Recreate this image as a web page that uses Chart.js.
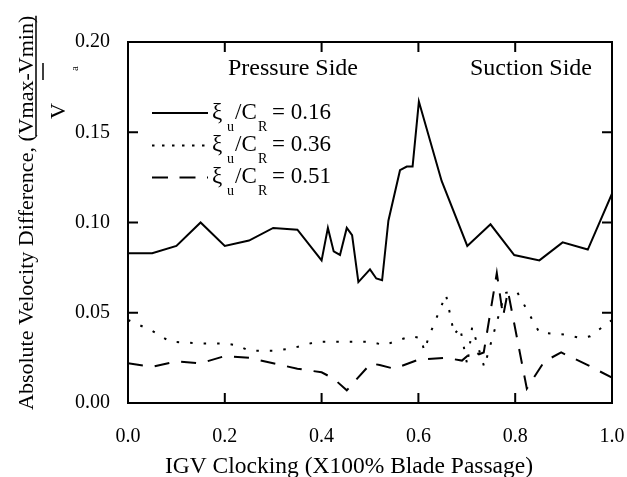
<!DOCTYPE html>
<html>
<head>
<meta charset="utf-8">
<script src="https://cdn.jsdelivr.net/npm/chart.js@4.4.1/dist/chart.umd.min.js"></script>
<style>
  html, body { margin: 0; padding: 0; background: #fff; }
  canvas { display: block; }
</style>
</head>
<body>
<canvas id="igv-chart" width="627" height="477"></canvas>
<script>
// IGV clocking position (fraction of blade passage) and velocity difference
const x016 = [0, 0.05, 0.1, 0.15, 0.2, 0.25, 0.3, 0.35, 0.4, 0.413, 0.425, 0.438, 0.452, 0.463, 0.476,
              0.5, 0.513, 0.525, 0.538, 0.562, 0.576, 0.588, 0.601, 0.648, 0.701, 0.749, 0.798, 0.85, 0.898, 0.95, 1.0];
const y016 = [0.083, 0.083, 0.087, 0.100, 0.087, 0.090, 0.097, 0.096, 0.079, 0.097, 0.084, 0.082, 0.097, 0.093, 0.067,
              0.074, 0.069, 0.068, 0.101, 0.129, 0.131, 0.131, 0.167, 0.123, 0.087, 0.099, 0.082, 0.079, 0.089, 0.085, 0.116];

const x036 = [0, 0.05, 0.087, 0.15, 0.2, 0.225, 0.25, 0.3, 0.335, 0.39, 0.45, 0.5, 0.53, 0.55, 0.585, 0.605,
              0.612, 0.622, 0.657, 0.674, 0.686, 0.701, 0.711, 0.736, 0.779, 0.803, 0.85, 0.9, 0.935, 0.955, 1.0];
const y036 = [0.046, 0.040, 0.034, 0.033, 0.033, 0.032, 0.029, 0.029, 0.030, 0.034, 0.034, 0.034, 0.032, 0.034, 0.037, 0.036,
              0.029, 0.037, 0.060, 0.038, 0.042, 0.021, 0.042, 0.020, 0.061, 0.062, 0.039, 0.038, 0.036, 0.037, 0.046];

const x051 = [0, 0.05, 0.1, 0.15, 0.2, 0.25, 0.3, 0.35, 0.4, 0.425, 0.452, 0.47, 0.502, 0.52, 0.55, 0.6, 0.657,
              0.69, 0.705, 0.715, 0.725, 0.735, 0.762, 0.775, 0.785, 0.824, 0.86, 0.895, 0.95, 1.0];
const y051 = [0.022, 0.020, 0.023, 0.022, 0.026, 0.025, 0.022, 0.019, 0.017, 0.0135, 0.007, 0.0125, 0.022, 0.021, 0.019, 0.024, 0.025,
              0.0235, 0.027, 0.029, 0.027, 0.028, 0.072, 0.048, 0.062, 0.008, 0.023, 0.028, 0.021, 0.014];

const xTickVals = [0, 0.2, 0.4, 0.6, 0.8, 1.0];
const xTickLabels = ['0.0', '0.2', '0.4', '0.6', '0.8', '1.0'];
const yTickVals = [0, 0.05, 0.1, 0.15, 0.2];
const yTickLabels = ['0.00', '0.05', '0.10', '0.15', '0.20'];

const legendValues = ['0.16', '0.36', '0.51'];

const SERIF = "'Liberation Serif', 'Times New Roman', serif";

function pts(xs, ys) {
  return xs.map((v, i) => ({ x: v, y: ys[i] }));
}

function rotText(ctx, text, bx, by, size) {
  ctx.save();
  ctx.translate(bx, by);
  ctx.rotate(-Math.PI / 2);
  ctx.font = size + 'px ' + SERIF;
  ctx.textAlign = 'left';
  ctx.textBaseline = 'alphabetic';
  ctx.fillText(text, 0, 0);
  ctx.restore();
}

const dashes = [[], [2.5, 11], [15, 12]];
const legendDashes = [[], [2.5, 7.5], [16, 11.5]];

// frame, inward ticks, legend, labels
const decor = {
  id: 'decor',
  afterDraw(chart) {
    const { ctx, chartArea: a, scales: { x, y } } = chart;
    ctx.save();
    ctx.strokeStyle = '#000';
    ctx.fillStyle = '#000';
    ctx.lineWidth = 2;
    ctx.strokeRect(a.left, a.top, a.right - a.left, a.bottom - a.top);

    ctx.beginPath();
    xTickVals.forEach(v => {
      const px = x.getPixelForValue(v);
      ctx.moveTo(px, a.bottom); ctx.lineTo(px, a.bottom - 10);
      ctx.moveTo(px, a.top); ctx.lineTo(px, a.top + 10);
    });
    yTickVals.forEach(v => {
      const py = y.getPixelForValue(v);
      ctx.moveTo(a.left, py); ctx.lineTo(a.left + 10, py);
      ctx.moveTo(a.right, py); ctx.lineTo(a.right - 10, py);
    });
    ctx.stroke();

    // side annotations
    ctx.font = '24px ' + SERIF;
    ctx.textAlign = 'left';
    ctx.textBaseline = 'alphabetic';
    ctx.fillText('Pressure Side', 228, 75);
    ctx.fillText('Suction Side', 470, 75);

    // legend
    const rows = [113, 145.5, 177.5];
    rows.forEach((ly, i) => {
      ctx.save();
      ctx.lineWidth = 2;
      ctx.setLineDash(legendDashes[i]);
      ctx.beginPath();
      ctx.moveTo(152, ly); ctx.lineTo(208, ly);
      ctx.stroke();
      ctx.restore();
      const base = ly + 5.5;
      ctx.font = '23px ' + SERIF;
      ctx.fillText('\u03BE', 212, base);
      ctx.font = '14px ' + SERIF;
      ctx.fillText('u', 227, base + 12);
      ctx.font = '23px ' + SERIF;
      ctx.fillText('/C', 235, base);
      ctx.font = '14px ' + SERIF;
      ctx.fillText('R', 258, base + 12);
      ctx.font = '23px ' + SERIF;
      ctx.fillText('= ' + legendValues[i], 272, base);
    });

    // x title
    ctx.font = '23.5px ' + SERIF;
    ctx.textAlign = 'center';
    ctx.fillText('IGV Clocking (X100% Blade Passage)', 349, 473);

    // y title with fraction
    const main = 'Absolute Velocity Difference, (';
    const num = 'Vmax-Vmin)';
    ctx.font = '22px ' + SERIF;
    const w1 = ctx.measureText(main).width;
    const w2 = ctx.measureText(num).width;
    rotText(ctx, main + num, 33, 410, 22);
    ctx.lineWidth = 1.5;
    ctx.beginPath();
    ctx.moveTo(36, 410 - w1 + 2); ctx.lineTo(36, 410 - w1 - w2);
    ctx.moveTo(43, 63); ctx.lineTo(43, 80);
    ctx.stroke();
    rotText(ctx, 'V', 65, 119, 22);
    rotText(ctx, 'a', 78, 71, 11);
    ctx.restore();
  }
};

new Chart(document.getElementById('igv-chart'), {
  type: 'line',
  data: {
    datasets: [
      { label: '\u03BEu/CR = 0.16', data: pts(x016, y016) },
      { label: '\u03BEu/CR = 0.36', data: pts(x036, y036) },
      { label: '\u03BEu/CR = 0.51', data: pts(x051, y051) }
    ].map((d, i) => Object.assign(d, {
      borderColor: '#000',
      borderWidth: 2,
      borderDash: dashes[i],
      borderCapStyle: 'butt',
      pointRadius: 0,
      fill: false,
      tension: 0
    }))
  },
  options: {
    responsive: false,
    animation: false,
    devicePixelRatio: 1,
    layout: { padding: { top: 42, right: 15, left: 0, bottom: 0 } },
    plugins: { legend: { display: false }, tooltip: { enabled: false } },
    scales: {
      x: {
        type: 'linear', min: 0, max: 1,
        afterBuildTicks: s => { s.ticks = xTickVals.map(v => ({ value: v })); },
        afterFit: s => { s.height = 74; s.paddingLeft = 0; s.paddingRight = 0; },
        ticks: {
          callback: (v, i) => xTickLabels[i],
          font: { family: SERIF, size: 20 }, color: '#000',
          padding: 22, maxRotation: 0, autoSkip: false
        },
        grid: { display: false, drawTicks: false },
        border: { display: false }
      },
      y: {
        type: 'linear', min: 0, max: 0.2,
        afterBuildTicks: s => { s.ticks = yTickVals.map(v => ({ value: v })); },
        afterFit: s => { s.width = 128; s.paddingTop = 0; s.paddingBottom = 0; },
        ticks: {
          callback: (v, i) => yTickLabels[i],
          font: { family: SERIF, size: 20 }, color: '#000',
          padding: 18, autoSkip: false
        },
        grid: { display: false, drawTicks: false },
        border: { display: false }
      }
    }
  },
  plugins: [decor]
});
</script>
</body>
</html>
